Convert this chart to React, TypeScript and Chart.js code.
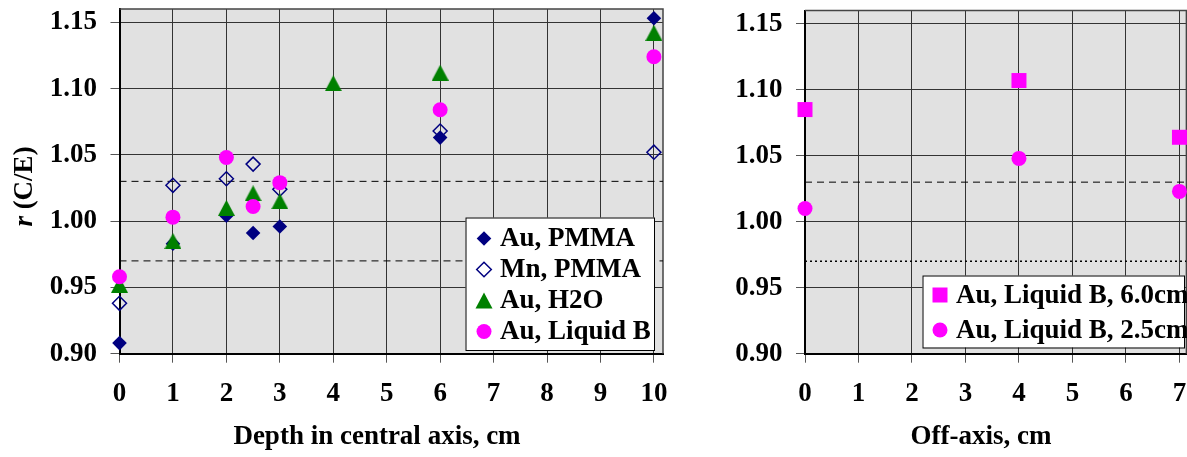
import React, { useEffect, useRef } from 'react';
import { Chart, registerables } from 'chart.js';
Chart.register(...registerables);

// ---------- data ----------
const depthTicks = [0, 1, 2, 3, 4, 5, 6, 7, 8, 9, 10];
const offAxisTicks = [0, 1, 2, 3, 4, 5, 6, 7];
const rTicks = [0.9, 0.95, 1.0, 1.05, 1.1, 1.15];
const toleranceLow = 0.97;
const toleranceHigh = 1.03;

const auPmmaX = [0, 1, 2, 2.5, 3, 6, 10];
const auPmmaY = [0.908, 0.983, 1.004, 0.991, 0.996, 1.063, 1.153];
const mnPmmaX = [0, 1, 2, 2.5, 3, 6, 10];
const mnPmmaY = [0.938, 1.027, 1.032, 1.043, 1.024, 1.068, 1.052];
const auH2OX = [0, 1, 2, 2.5, 3, 4, 6, 10];
const auH2OY = [0.952, 0.985, 1.01, 1.021, 1.015, 1.104, 1.112, 1.142];
const auLiqX = [0, 1, 2, 2.5, 3, 6, 10];
const auLiqY = [0.958, 1.003, 1.048, 1.011, 1.029, 1.084, 1.124];

const offAxisX = [0, 4, 7];
const liq60Y = [1.085, 1.107, 1.064];
const liq25Y = [1.01, 1.048, 1.023];

const leftLabels = ['Au, PMMA', 'Mn, PMMA', 'Au, H2O', 'Au, Liquid B'];
const rightLabels = ['Au, Liquid B, 6.0cm', 'Au, Liquid B, 2.5cm'];

const NAVY = '#000080';
const GREEN = '#008000';
const MAGENTA = '#FF00FF';
const FONT = "'Liberation Serif', 'Times New Roman', serif";

const pts = (xs: number[], ys: number[]) => xs.map((x, i) => ({ x, y: ys[i] }));

function makeTriangle(color: string) {
  const c = document.createElement('canvas');
  c.width = 17;
  c.height = 16;
  const g = c.getContext('2d')!;
  g.fillStyle = color;
  g.beginPath();
  g.moveTo(8.5, 0);
  g.lineTo(17, 16);
  g.lineTo(0, 16);
  g.closePath();
  g.fill();
  return c;
}

type Marker = 'diamond' | 'odiamond' | 'triangle' | 'circle' | 'square';

function drawMarker(ctx: CanvasRenderingContext2D, m: Marker, x: number, y: number, color: string) {
  ctx.save();
  ctx.fillStyle = color;
  ctx.strokeStyle = color;
  ctx.beginPath();
  if (m === 'diamond' || m === 'odiamond') {
    const r = 7.3;
    ctx.moveTo(x - r, y);
    ctx.lineTo(x, y - r);
    ctx.lineTo(x + r, y);
    ctx.lineTo(x, y + r);
    ctx.closePath();
    if (m === 'diamond') ctx.fill();
    else {
      ctx.lineWidth = 1.5;
      ctx.stroke();
    }
  } else if (m === 'triangle') {
    ctx.moveTo(x, y - 8);
    ctx.lineTo(x + 8.5, y + 8);
    ctx.lineTo(x - 8.5, y + 8);
    ctx.closePath();
    ctx.fill();
  } else if (m === 'circle') {
    ctx.arc(x, y, 7.5, 0, Math.PI * 2);
    ctx.fill();
  } else {
    ctx.rect(x - 7.5, y - 7.5, 15, 15);
    ctx.fill();
  }
  ctx.restore();
}

interface LegendSpec {
  x: number; y: number; w: number; h: number;
  first: number; pitch: number; mx: number; tx: number;
  items: { label: string; marker: Marker; color: string }[];
}

interface ChartSpec {
  datasets: any[];
  xMax: number;
  xTicks: number[];
  yWidth: number;
  padRight: number;
  xTitle: string;
  xTitleX: number;
  legend: LegendSpec;
  yTitle: boolean;
  lowDash: number[];
}

function buildChart(canvas: HTMLCanvasElement, spec: ChartSpec) {
  const plugin = {
    id: 'decor',
    beforeDraw(chart: any) {
      const { ctx, chartArea: a } = chart;
      ctx.save();
      ctx.fillStyle = '#e1e1e1';
      ctx.fillRect(a.left, a.top, a.right - a.left, a.bottom - a.top);
      ctx.restore();
    },
    beforeDatasetsDraw(chart: any) {
      const { ctx, chartArea: a } = chart;
      ctx.save();
      ctx.strokeStyle = '#444';
      ctx.lineWidth = 1.5;
      ctx.beginPath();
      ctx.moveTo(a.left, a.top);
      ctx.lineTo(a.right, a.top);
      ctx.lineTo(a.right, a.bottom);
      ctx.stroke();
      ctx.restore();
    },
    afterDraw(chart: any) {
      const ctx: CanvasRenderingContext2D = chart.ctx;
      const L = spec.legend;
      ctx.save();
      ctx.fillStyle = '#fff';
      ctx.fillRect(L.x, L.y, L.w, L.h);
      ctx.strokeStyle = '#000';
      ctx.lineWidth = 1;
      ctx.strokeRect(L.x + 0.5, L.y + 0.5, L.w, L.h);
      ctx.font = `bold 27px ${FONT}`;
      ctx.textBaseline = 'middle';
      ctx.fillStyle = '#000';
      L.items.forEach((it, i) => {
        const cy = L.first + i * L.pitch;
        drawMarker(ctx, it.marker, L.mx, cy, it.color);
        ctx.fillStyle = '#000';
        ctx.fillText(it.label, L.tx, cy + 1);
      });
      // x-axis title
      ctx.textAlign = 'center';
      ctx.fillText(spec.xTitle, spec.xTitleX, 437);
      if (spec.yTitle) {
        ctx.translate(25, 186.5);
        ctx.rotate(-Math.PI / 2);
        const f1 = `italic bold 27px ${FONT}`;
        const f2 = `bold 27px ${FONT}`;
        ctx.font = f1;
        const w1 = ctx.measureText('r').width;
        ctx.font = f2;
        const w2 = ctx.measureText(' (C/E)').width;
        const start = -(w1 + w2) / 2;
        ctx.textAlign = 'left';
        ctx.font = f1;
        ctx.fillText('r', start, 0);
        ctx.font = f2;
        ctx.fillText(' (C/E)', start + w1, 0);
      }
      ctx.restore();
    },
  };

  const refLines = [
    {
      type: 'line',
      data: [{ x: 0, y: toleranceHigh }, { x: spec.xMax, y: toleranceHigh }],
      borderColor: '#000', borderWidth: 1, borderDash: [7, 5],
      pointRadius: 0, showLine: true, fill: false, order: 20,
    },
    {
      type: 'line',
      data: [{ x: 0, y: toleranceLow }, { x: spec.xMax, y: toleranceLow }],
      borderColor: '#000', borderWidth: spec.lowDash[0] < 4 ? 1.5 : 1, borderDash: spec.lowDash,
      pointRadius: 0, showLine: true, fill: false, order: 20,
    },
  ];

  return new Chart(canvas, {
    type: 'scatter',
    data: { datasets: [...refLines, ...spec.datasets] as any },
    plugins: [plugin],
    options: {
      animation: false,
      responsive: false,
      devicePixelRatio: 1,
      events: [],
      layout: { padding: { top: 4, right: spec.padRight, left: 0, bottom: 0 } },
      plugins: { legend: { display: false }, tooltip: { enabled: false } },
      scales: {
        x: {
          type: 'linear',
          min: 0,
          max: spec.xMax,
          afterBuildTicks: (s: any) => { s.ticks = spec.xTicks.map((v) => ({ value: v })); },
          afterFit: (s: any) => { s.height = 103.3; s.paddingLeft = 0; s.paddingRight = 0; },
          ticks: {
            color: '#000',
            padding: 15,
            autoSkip: false,
            maxRotation: 0,
            font: { family: FONT, size: 27, weight: 'bold', lineHeight: 1.2 },
            callback: (v: any) => String(v),
          },
          grid: { color: '#333', lineWidth: 1, tickLength: 9, tickColor: '#555', drawTicks: true },
          border: { display: true, color: '#000', width: 2 },
          title: { display: false },
        },
        y: {
          type: 'linear',
          min: 0.9,
          max: 1.16,
          afterBuildTicks: (s: any) => { s.ticks = rTicks.map((v) => ({ value: v })); },
          afterFit: (s: any) => { s.width = spec.yWidth; s.paddingTop = 0; s.paddingBottom = 0; },
          ticks: {
            color: '#000',
            padding: 13.5,
            font: { family: FONT, size: 27, weight: 'bold', lineHeight: 1.2 },
            callback: (v: any) => Number(v).toFixed(2),
          },
          grid: { color: '#333', lineWidth: 1, tickLength: 9, tickColor: '#555', drawTicks: true },
          border: { display: true, color: '#000', width: 2 },
        },
      },
    } as any,
  });
}

export default function App() {
  const leftRef = useRef<HTMLCanvasElement>(null);
  const rightRef = useRef<HTMLCanvasElement>(null);

  useEffect(() => {
    const tri = makeTriangle(GREEN);
    const left = buildChart(leftRef.current!, {
      xMax: 10.17,
      xTicks: depthTicks,
      yWidth: 119.5,
      padRight: 17,
      xTitle: 'Depth in central axis, cm',
      xTitleX: 377,
      yTitle: true,
      lowDash: [7, 5],
      datasets: [
        { label: leftLabels[0], data: pts(auPmmaX, auPmmaY), pointStyle: 'rectRot', pointRadius: 7.3, pointBorderWidth: 0, backgroundColor: NAVY, borderColor: NAVY, order: 3, clip: false },
        { label: leftLabels[1], data: pts(mnPmmaX, mnPmmaY), pointStyle: 'rectRot', pointRadius: 7, pointBorderWidth: 1.5, backgroundColor: 'rgba(0,0,0,0)', borderColor: NAVY, order: 2, clip: false },
        { label: leftLabels[2], data: pts(auH2OX, auH2OY), pointStyle: tri, pointRadius: 8, backgroundColor: GREEN, borderColor: GREEN, order: 1, clip: false },
        { label: leftLabels[3], data: pts(auLiqX, auLiqY), pointStyle: 'circle', pointRadius: 7.5, pointBorderWidth: 0, backgroundColor: MAGENTA, borderColor: MAGENTA, order: 0, clip: false },
      ],
      legend: {
        x: 465.5, y: 217.5, w: 188.5, h: 132.5, first: 238.5, pitch: 31, mx: 484, tx: 500,
        items: [
          { label: leftLabels[0], marker: 'diamond', color: NAVY },
          { label: leftLabels[1], marker: 'odiamond', color: NAVY },
          { label: leftLabels[2], marker: 'triangle', color: GREEN },
          { label: leftLabels[3], marker: 'circle', color: MAGENTA },
        ],
      },
    });
    const right = buildChart(rightRef.current!, {
      xMax: 7.13,
      xTicks: offAxisTicks,
      yWidth: 115,
      padRight: 0,
      xTitle: 'Off-axis, cm',
      xTitleX: 291,
      yTitle: false,
      lowDash: [2, 3],
      datasets: [
        { label: rightLabels[0], data: pts(offAxisX, liq60Y), pointStyle: 'rect', pointRadius: 10.6, pointBorderWidth: 0, backgroundColor: MAGENTA, borderColor: MAGENTA, order: 1, clip: false },
        { label: rightLabels[1], data: pts(offAxisX, liq25Y), pointStyle: 'circle', pointRadius: 7.5, pointBorderWidth: 0, backgroundColor: MAGENTA, borderColor: MAGENTA, order: 0, clip: false },
      ],
      legend: {
        x: 232.5, y: 275.5, w: 261.5, h: 72, first: 295, pitch: 35, mx: 250, tx: 266,
        items: [
          { label: rightLabels[0], marker: 'square', color: MAGENTA },
          { label: rightLabels[1], marker: 'circle', color: MAGENTA },
        ],
      },
    });
    return () => {
      left.destroy();
      right.destroy();
    };
  }, []);

  return (
    <div style={{ position: 'fixed', left: 0, top: 0, width: 1187, height: 457, background: '#fff', overflow: 'hidden' }}>
      <canvas ref={leftRef} width={680} height={457} style={{ position: 'absolute', left: 0, top: 0 }} />
      <canvas ref={rightRef} width={507} height={457} style={{ position: 'absolute', left: 690, top: 0 }} />
    </div>
  );
}
